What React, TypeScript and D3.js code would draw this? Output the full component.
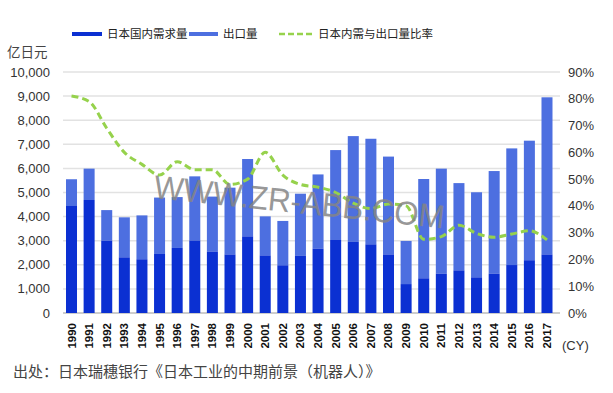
import React from "react";
import * as d3 from "d3";

const years = [
  "1990","1991","1992","1993","1994","1995","1996","1997","1998","1999",
  "2000","2001","2002","2003","2004","2005","2006","2007","2008","2009",
  "2010","2011","2012","2013","2014","2015","2016","2017",
];
// 日本国内需求量 (亿日元)
const domestic = [
  4440, 4690, 3000, 2310, 2230, 2450, 2700, 3010, 2550, 2430,
  3180, 2390, 1980, 2370, 2670, 3030, 2950, 2850, 2430, 1200,
  1440, 1630, 1770, 1480, 1630, 1990, 2190, 2430,
];
// 总量 (国内 + 出口) 顶部
const totals = [
  5550, 5990, 4270, 3970, 4050, 4790, 4810, 5670, 4830, 5200,
  6390, 4010, 3820, 4950, 5750, 6760, 7340, 7230, 6490, 2990,
  5560, 5990, 5390, 5010, 5890, 6830, 7150, 8950,
];
// 日本内需与出口量比率 (%)
const ratio = [
  81, 79, 69, 60, 55.5, 51.5, 56.5, 53.5, 53.5, 48,
  50, 60, 51.5, 48, 47, 45, 41, 39, 40.7, 40,
  27.5, 28.5, 32.8, 29.7, 28.3, 29.5, 30.7, 27.3,
];
const leftTicks = [0, 1000, 2000, 3000, 4000, 5000, 6000, 7000, 8000, 9000, 10000];
const rightTicks = [0, 10, 20, 30, 40, 50, 60, 70, 80, 90];
const legendLabels = ["日本国内需求量", "出口量", "日本内需与出口量比率"];

const C_DOM = "#0b30d2";
const C_EXP = "#4d6fe0";
const C_LINE = "#96d24c";
const CJK = "'Noto Sans CJK SC', 'Noto Sans', sans-serif";
const NUM = "'Liberation Sans', Arial, sans-serif";

export default function App() {
  const W = 613, H = 393;
  const x = d3.scaleBand<string>().domain(years).range([62.7, 555.8]).paddingInner(0.375).paddingOuter(0.1875);
  const y = d3.scaleLinear().domain([0, 10000]).range([313, 72]);
  const y2 = d3.scaleLinear().domain([0, 90]).range([313, 72]);
  const line = d3
    .line<number>()
    .x((_, i) => (x(years[i]) as number) + x.bandwidth() / 2)
    .y((d) => y2(d))
    .curve(d3.curveMonotoneX);

  return (
    <svg width={W} height={H} style={{ position: "absolute", left: 0, top: 0, background: "#fff" }}>
      <rect width={W} height={H} fill="#fff" />
      {/* gridlines */}
      {leftTicks.map((t) => (
        <line key={t} x1={63} x2={560} y1={y(t)} y2={y(t)} stroke={t === 0 ? "#bdbdbd" : "#e2e2e2"} strokeWidth={1.5} />
      ))}
      {/* bars */}
      {years.map((yr, i) => (
        <g key={yr}>
          <rect x={x(yr)} width={x.bandwidth()} y={y(totals[i])} height={y(domestic[i]) - y(totals[i])} fill={C_EXP} />
          <rect x={x(yr)} width={x.bandwidth()} y={y(domestic[i])} height={y(0) - y(domestic[i])} fill={C_DOM} />
        </g>
      ))}
      {/* ratio line */}
      <path d={line(ratio) || ""} fill="none" stroke={C_LINE} strokeWidth={3} strokeDasharray="7,4" />
      {/* left axis labels */}
      {leftTicks.map((t) => (
        <text key={t} x={50} y={y(t)} dy="0.35em" textAnchor="end" fontFamily={NUM} fontSize={13} fill="#333">
          {d3.format(",")(t)}
        </text>
      ))}
      {/* right axis labels */}
      {rightTicks.map((t) => (
        <text key={t} x={568} y={y2(t)} dy="0.35em" textAnchor="start" fontFamily={NUM} fontSize={13} fill="#333">
          {t + "%"}
        </text>
      ))}
      {/* x labels */}
      {years.map((yr) => {
        const cx = (x(yr) as number) + x.bandwidth() / 2;
        return (
          <text key={yr} transform={`translate(${cx + 4},323) rotate(-90)`} textAnchor="end" fontFamily={NUM} fontWeight="bold" fontSize={11.5} fill="#111">
            {yr}
          </text>
        );
      })}
      <text x={562} y={345} dy="0.35em" fontFamily={NUM} fontSize={13} fill="#333">(CY)</text>
      {/* unit */}
      <text x={7} y={57} fontFamily={CJK} fontSize={13.5} fill="#444">亿日元</text>
      {/* legend */}
      <rect x={72} y={32} width={30} height={4} fill={C_DOM} />
      <text x={107} y={34} dy="0.35em" fontFamily={CJK} fontSize={11.5} fill="#222">{legendLabels[0]}</text>
      <rect x={189} y={32} width={29} height={4} fill={C_EXP} />
      <text x={223} y={34} dy="0.35em" fontFamily={CJK} fontSize={11.5} fill="#222">{legendLabels[1]}</text>
      <line x1={279} x2={313} y1={34} y2={34} stroke={C_LINE} strokeWidth={2.5} strokeDasharray="6,3" />
      <text x={318} y={34} dy="0.35em" fontFamily={CJK} fontSize={11.5} fill="#222">{legendLabels[2]}</text>
      {/* watermark */}
      <text x={0} y={0} transform="translate(153,198) rotate(6)" textLength={292} lengthAdjust="spacingAndGlyphs" fontFamily={NUM} fontSize={33} fill="#858585" fillOpacity={0.85}>
        WWW.ZR-ABB.COM
      </text>
      {/* source */}
      <text x={13} y={377} fontFamily={CJK} fontSize={15} fill="#444">
        出处：日本瑞穗银行《日本工业的中期前景（机器人）》
      </text>
    </svg>
  );
}
